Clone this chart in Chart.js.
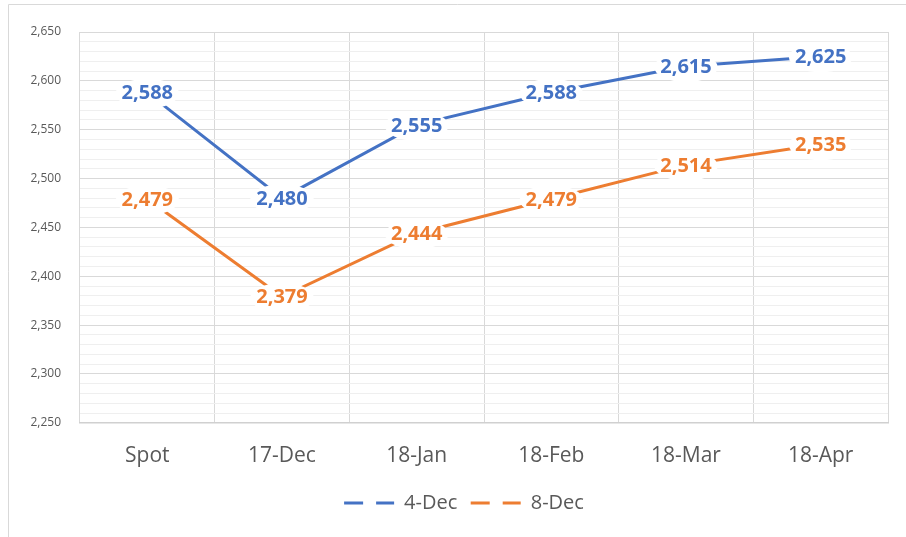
<!DOCTYPE html>
<html>
<head>
<meta charset="utf-8">
<script src="https://cdn.jsdelivr.net/npm/chart.js@4/dist/chart.umd.min.js"></script>
<style>
  html, body { margin: 0; padding: 0; background: #fff; }
  #wrap { width: 906px; height: 537px; position: relative; }
</style>
</head>
<body>
<div id="wrap"><canvas id="grafica" width="906" height="537"></canvas></div>
<script>
const labels = ['Spot', '17-Dec', '18-Jan', '18-Feb', '18-Mar', '18-Apr']
const dec4 = [2588, 2480, 2555, 2588, 2615, 2625]
const dec8 = [2479, 2379, 2444, 2479, 2514, 2535]

const blue = '#4472C4'
const orange = '#ED7D31'
const grey = '#595959'

// frame around the chart area (only top / left edges visible)
const frame = {
  id: 'frame',
  afterLayout(chart) {
    // centre the legend under the plot area rather than the whole canvas
    const lg = chart.legend
    lg.left += 40
    lg.width -= 40
  },
  beforeDraw(chart) {
    const ctx = chart.ctx
    ctx.save()
    ctx.strokeStyle = '#d9d9d9'
    ctx.lineWidth = 1
    ctx.beginPath()
    ctx.moveTo(8.5, 600)
    ctx.lineTo(8.5, 4.5)
    ctx.lineTo(1000, 4.5)
    ctx.stroke()
    ctx.restore()
  }
}

// value labels centred on the points, on a white blob
const valueLabels = {
  id: 'valueLabels',
  afterDatasetsDraw(chart) {
    const ctx = chart.ctx
    ctx.save()
    ctx.font = 'bold 20px "Open Sans"'
    ctx.textAlign = 'center'
    ctx.textBaseline = 'middle'
    chart.data.datasets.forEach((ds, i) => {
      const meta = chart.getDatasetMeta(i)
      meta.data.forEach((pt, j) => {
        const txt = ds.data[j].toLocaleString('en-US')
        const w = ctx.measureText(txt).width
        ctx.fillStyle = '#fff'
        ctx.beginPath()
        ctx.ellipse(pt.x, pt.y + 1, w / 2 + 6, 15, 0, 0, Math.PI * 2)
        ctx.fill()
        ctx.fillStyle = ds.borderColor
        ctx.fillText(txt, pt.x, pt.y + 1)
      })
    })
    ctx.restore()
  }
}

const dataset1 = {
  label: '4-Dec',
  data: dec4,
  borderColor: blue,
  backgroundColor: blue,
  borderWidth: 3,
  pointRadius: 0,
  fill: false,
  tension: 0
}

const dataset2 = {
  label: '8-Dec',
  data: dec8,
  borderColor: orange,
  backgroundColor: orange,
  borderWidth: 3,
  pointRadius: 0,
  fill: false,
  tension: 0
}

const graph = document.querySelector('#grafica')

new Chart(graph, {
  type: 'line',
  data: { labels: labels, datasets: [dataset1, dataset2] },
  plugins: [frame, valueLabels],
  options: {
    responsive: false,
    animation: false,
    layout: { padding: { left: 0, right: 18, top: 32, bottom: 14 } },
    plugins: {
      tooltip: { enabled: false },
      legend: {
        position: 'bottom',
        labels: {
          color: grey,
          font: { family: '"Open Sans"', size: 20 },
          boxWidth: 50,
          boxHeight: 0,
          padding: 3,
          generateLabels(chart) {
            return chart.data.datasets.map((ds, i) => ({
              text: ds.label + (i === 0 ? '  ' : ''),
              fillStyle: 'rgba(0,0,0,0)',
              strokeStyle: ds.borderColor,
              lineWidth: 3,
              // zero-height box is stroked twice (there and back), so mirror the dashes
              lineDash: [19, 13, 36, 13, 19, 0],
              lineDashOffset: 0,
              fontColor: grey,
              hidden: false,
              datasetIndex: i
            }))
          }
        }
      }
    },
    scales: {
      x: {
        offset: true,
        grid: { offset: true, color: '#d9d9d9', drawTicks: false },
        border: { display: true, color: '#d0d0d0', width: 1.5 },
        ticks: { color: grey, font: { family: '"Open Sans"', size: 21 }, padding: 21 }
      },
      y: {
        min: 2250,
        max: 2650,
        afterFit(scale) { scale.width = 80 },
        grid: {
          drawTicks: false,
          color: ctx => (ctx.tick && ctx.tick.value % 50 === 0) ? '#d9d9d9' : '#efefef'
        },
        border: { display: false },
        ticks: {
          stepSize: 10,
          autoSkip: false,
          color: grey,
          font: { family: '"Open Sans"', size: 12 },
          padding: 19,
          callback: v => v % 50 === 0 ? v.toLocaleString('en-US') : ''
        }
      }
    }
  }
})
</script>
</body>
</html>
